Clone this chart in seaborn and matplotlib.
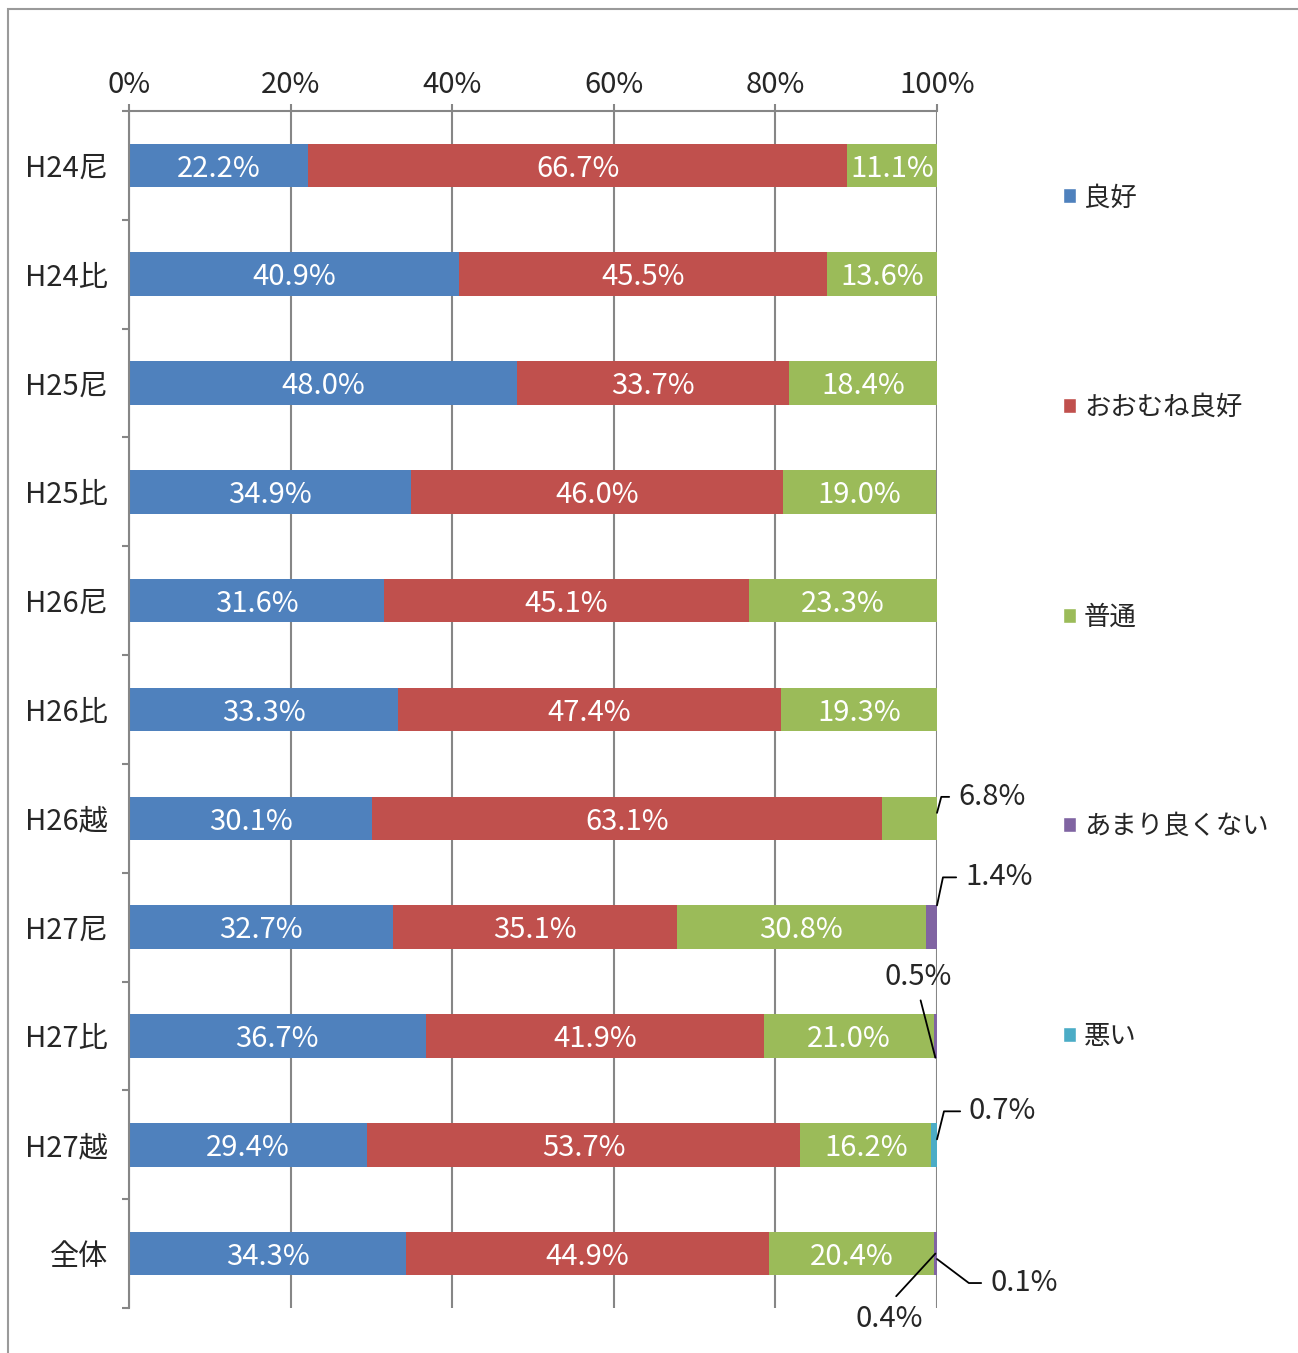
import numpy as np
import pandas as pd
import matplotlib
matplotlib.use("Agg")
import matplotlib.pyplot as plt
import seaborn as sns
from matplotlib.patches import Patch, Rectangle

categories = ["H24尼", "H24比", "H25尼", "H25比", "H26尼", "H26比",
              "H26越", "H27尼", "H27比", "H27越", "全体"]
series_names = ["良好", "おおむね良好", "普通", "あまり良くない", "悪い"]
good = [22.2, 40.9, 48.0, 34.9, 31.6, 33.3, 30.1, 32.7, 36.7, 29.4, 34.3]
fairly_good = [66.7, 45.5, 33.7, 46.0, 45.1, 47.4, 63.1, 35.1, 41.9, 53.7, 44.9]
normal = [11.1, 13.6, 18.4, 19.0, 23.3, 19.3, 6.8, 30.8, 21.0, 16.2, 20.4]
not_good = [0, 0, 0, 0, 0, 0, 0, 1.4, 0.5, 0, 0.4]
bad = [0, 0, 0, 0, 0, 0, 0, 0, 0, 0.7, 0.1]
colors = ["#4F81BD", "#C0504D", "#9BBB59", "#8064A2", "#4BACC6"]
xticks = [0, 20, 40, 60, 80, 100]

sns.set_theme(style="white")
plt.rcParams["font.family"] = ["Noto Sans CJK JP", "DejaVu Sans"]

vals = np.array([good, fairly_good, normal, not_good, bad])
cum = np.cumsum(vals, axis=0)
starts = cum - vals

fig = plt.figure(figsize=(12.98, 13.53), dpi=100)
ax = fig.add_axes([129 / 1298, 1 - 1308 / 1353, 808 / 1298, 1197 / 1353])

# stacked bars: draw cumulative totals from the last series backwards
for k in range(len(series_names) - 1, -1, -1):
    df = pd.DataFrame({"cat": categories, "val": cum[k]})
    sns.barplot(data=df, x="val", y="cat", orient="h", color=colors[k],
                width=0.4, saturation=1, linewidth=0, ax=ax)

ax.set_xlim(0, 100)
ax.set_ylim(len(categories) - 0.5, -0.5)
ax.set_xlabel("")
ax.set_ylabel("")

gray = "#868686"
fs = 21
ax.xaxis.tick_top()
ax.set_xticks(xticks)
ax.set_xticklabels([f"{t}%" for t in xticks], fontsize=fs)
ax.tick_params(axis="x", top=True, length=5, width=1.5, color=gray, pad=3)
ax.grid(axis="x", color=gray, lw=1.5)
ax.set_axisbelow(True)
ax.set_yticks(range(len(categories)))
ax.set_yticklabels(categories, fontsize=fs)
ax.set_yticks(np.arange(-0.5, len(categories), 1), minor=True)
ax.tick_params(axis="y", which="major", length=0, pad=15)
ax.tick_params(axis="y", which="minor", left=True, length=5, width=1.5, color=gray)
for s in ["right", "bottom"]:
    ax.spines[s].set_visible(False)
for s in ["top", "left"]:
    ax.spines[s].set_color(gray)
    ax.spines[s].set_linewidth(1.5)

# labels inside bars
for k in range(3):
    for i in range(len(categories)):
        v = vals[k, i]
        if v >= 8:
            ax.text(starts[k, i] + v / 2, i + 0.03, f"{v:.1f}%", color="white",
                    fontsize=fs, ha="center", va="center")

# small values with leader lines: (series, category, dy_anchor, dx, dy, ha, va, relpos, conn)
leaders = [
    (2, 6, -0.05, 21, 16, "left", "center", (0, 0.5), "angle,angleA=0,angleB=75"),
    (3, 7, -0.2, 28, 28, "left", "center", (0, 0.5), "angle,angleA=0,angleB=78"),
    (3, 8, 0.2, -17, 66, "center", "bottom", (0.5, 0), "arc3"),
    (4, 9, -0.05, 32, 28, "left", "center", (0, 0.5), "angle,angleA=0,angleB=76"),
    (3, 10, 0.0, -46, -50, "center", "top", (0.5, 1), "arc3"),
    (4, 10, 0.05, 53, -24, "left", "center", (0, 0.5), "angle,angleA=0,angleB=-37"),
]
for k, i, dya, dx, dy, ha, va, rp, conn in leaders:
    x = min(cum[k, i], 100) - (0.2 if conn == "arc3" else 0)
    ax.annotate(f"{vals[k, i]:.1f}%", xy=(x, i + dya), xytext=(dx, dy),
                textcoords="offset pixels", fontsize=fs, ha=ha, va=va,
                annotation_clip=False,
                arrowprops=dict(arrowstyle="-", color="black", lw=1.3,
                                shrinkA=4, shrinkB=0, relpos=rp,
                                connectionstyle=conn))

handles = [Patch(facecolor=c) for c in colors]
fig.legend(handles, series_names, loc="center left",
           bbox_to_anchor=(1039 / 1298, 1 - 617 / 1353), frameon=False,
           fontsize=19, handlelength=0.5, handleheight=0.5,
           handletextpad=0.3, labelspacing=6.92)

fig.add_artist(Rectangle((8 / 1298, -0.1), 1.2, 1 - 9 / 1353 + 0.1,
                         transform=fig.transFigure, fill=False,
                         edgecolor="#9a9a9a", lw=1.5))

fig.savefig("out.png", dpi=100)
